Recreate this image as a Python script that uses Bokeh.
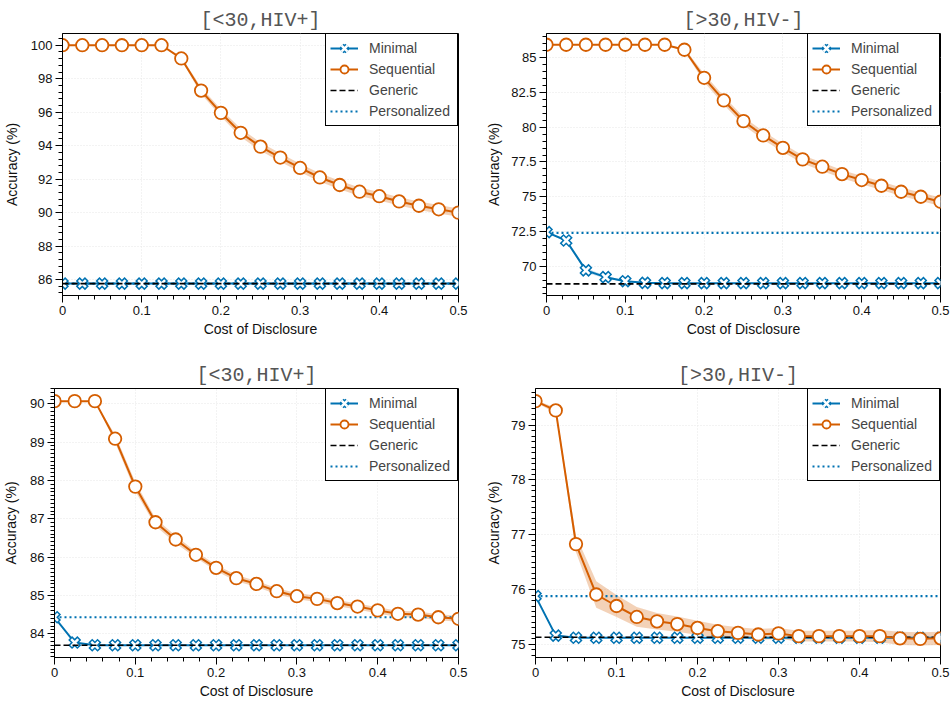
import numpy as np
from bokeh.plotting import figure
from bokeh.models import (FixedTicker, PrintfTickFormatter, Legend, LegendItem, Range1d)
from bokeh.layouts import column, row
from bokeh.embed import file_html
from bokeh.resources import INLINE

# ---------------- data ----------------
cost = [0.0, 0.025, 0.05, 0.075, 0.1, 0.125, 0.15, 0.175, 0.2, 0.225, 0.25,
        0.275, 0.3, 0.325, 0.35, 0.375, 0.4, 0.425, 0.45, 0.475, 0.5]
x_ticks = [0, 0.1, 0.2, 0.3, 0.4, 0.5]

titles = ["[<30,HIV+]", "[>30,HIV-]", "[<30,HIV+]", "[>30,HIV-]"]
series_names = ["Minimal", "Sequential", "Generic", "Personalized"]

# panel 1 (top left)
seq1 = [100.0, 100.0, 100.0, 100.0, 100.0, 100.0, 99.21, 97.29, 95.96, 94.77, 93.94,
        93.29, 92.67, 92.10, 91.65, 91.25, 90.98, 90.67, 90.41, 90.20, 90.00]
seq1_err = [0, 0, 0, 0, 0, 0, 0.1, 0.2, 0.22, 0.25, 0.25,
            0.25, 0.25, 0.25, 0.25, 0.25, 0.25, 0.25, 0.25, 0.25, 0.25]
min1 = [85.76, 85.76, 85.76, 85.76, 85.76, 85.76, 85.76, 85.76, 85.76, 85.76, 85.76,
        85.76, 85.76, 85.76, 85.76, 85.76, 85.76, 85.76, 85.76, 85.76, 85.76]
min1_err = [0] * 21
gen1 = 85.76
pers1 = 85.76
y1_ticks = [86, 88, 90, 92, 94, 96, 98, 100]

# panel 2 (top right)
seq2 = [85.94, 85.94, 85.94, 85.94, 85.94, 85.94, 85.94, 85.58, 83.56, 81.93, 80.44,
        79.41, 78.52, 77.69, 77.16, 76.63, 76.20, 75.79, 75.36, 75.00, 74.64]
seq2_err = [0, 0, 0, 0, 0, 0, 0, 0.1, 0.3, 0.3, 0.3,
            0.3, 0.3, 0.3, 0.3, 0.3, 0.3, 0.3, 0.3, 0.3, 0.3]
min2 = [72.45, 71.85, 69.70, 69.21, 68.92, 68.80, 68.78, 68.78, 68.78, 68.78, 68.78,
        68.78, 68.78, 68.78, 68.78, 68.78, 68.78, 68.78, 68.78, 68.78, 68.78]
min2_err = [0, 0.1, 0.15, 0.1, 0.05, 0, 0, 0, 0, 0, 0,
            0, 0, 0, 0, 0, 0, 0, 0, 0, 0]
gen2 = 68.73
pers2 = 72.40
y2_ticks = [70, 72.5, 75, 77.5, 80, 82.5, 85]

# panel 3 (bottom left)
seq3 = [90.07, 90.07, 90.07, 89.09, 87.84, 86.91, 86.46, 86.06, 85.72, 85.45, 85.30,
        85.11, 84.98, 84.91, 84.80, 84.71, 84.61, 84.52, 84.50, 84.43, 84.39]
seq3_err = [0, 0, 0, 0.1, 0.12, 0.1, 0.1, 0.08, 0.08, 0.08, 0.08,
            0.08, 0.08, 0.08, 0.08, 0.08, 0.08, 0.08, 0.08, 0.08, 0.08]
min3 = [84.43, 83.77, 83.70, 83.70, 83.70, 83.70, 83.70, 83.70, 83.70, 83.70, 83.70,
        83.70, 83.70, 83.70, 83.70, 83.70, 83.70, 83.70, 83.70, 83.70, 83.70]
min3_err = [0] * 21
gen3 = 83.70
pers3 = 84.43
y3_ticks = [84, 85, 86, 87, 88, 89, 90]

# panel 4 (bottom right)
seq4 = [79.44, 79.27, 76.83, 75.91, 75.70, 75.50, 75.42, 75.37, 75.30, 75.24, 75.21,
        75.18, 75.20, 75.15, 75.15, 75.15, 75.15, 75.15, 75.11, 75.10, 75.11]
seq4_err = [0.02, 0.05, 0.15, 0.24, 0.2, 0.18, 0.15, 0.14, 0.13, 0.12, 0.1,
            0.1, 0.1, 0.1, 0.1, 0.1, 0.1, 0.11, 0.12, 0.12, 0.12]
min4 = [75.88, 75.16, 75.12, 75.12, 75.12, 75.12, 75.12, 75.12, 75.12, 75.12, 75.12,
        75.12, 75.12, 75.12, 75.12, 75.12, 75.12, 75.12, 75.12, 75.12, 75.12]
min4_err = [0, 0.03, 0, 0, 0, 0, 0, 0, 0, 0, 0,
            0, 0, 0, 0, 0, 0, 0, 0, 0, 0]
gen4 = 75.13
pers4 = 75.88
y4_ticks = [75, 76, 77, 78, 79]

# ---------------- style ----------------
BLUE = "#0072B2"
ORANGE = "#D55E00"
SANS = "Liberation Sans"


def make_panel(title, seq, seq_err, mini, mini_err, generic, personalized,
               y_range, y_ticks, y_minor_step, w, h, bl, br, bt, bb, toff, ylab_off):
    p = figure(width=w, height=h, output_backend="svg", toolbar_location=None,
               x_range=Range1d(0, 0.5), y_range=Range1d(*y_range),
               min_border_left=bl, min_border_right=br,
               min_border_top=bt, min_border_bottom=bb,
               title=title)
    p.title.text_font = "Liberation Mono"
    p.title.text_font_size = "20px"
    p.title.text_font_style = "normal"
    p.title.text_color = "#555555"
    p.title.align = "center"
    p.title.offset = toff
    p.title.standoff = 4

    p.outline_line_color = "black"
    p.outline_line_width = 1
    p.outline_line_alpha = 1

    x = np.array(cost)
    s = np.array(seq)
    se = np.array(seq_err)
    m = np.array(mini)
    me = np.array(mini_err)

    # bands
    p.varea(x=x, y1=m - me, y2=m + me, fill_color=BLUE, fill_alpha=0.25)
    p.varea(x=x, y1=s - se, y2=s + se, fill_color=ORANGE, fill_alpha=0.28)

    # personalized
    r_pers = p.line([cost[0], cost[-1]], [personalized, personalized],
                    line_color=BLUE, line_width=2.2, line_dash="2 3")
    # minimal
    r_min_l = p.line(x, m, line_color=BLUE, line_width=2)
    r_min_b = p.scatter(x, m, marker="x", size=13, line_color=BLUE, line_width=5.5)
    r_min_w = p.scatter(x, m, marker="x", size=10, line_color="white", line_width=2.5)
    # generic
    r_gen = p.line([cost[0], cost[-1]], [generic, generic],
                   line_color="black", line_width=1.6, line_dash="6 3")
    # sequential
    r_seq_l = p.line(x, s, line_color=ORANGE, line_width=2)
    r_seq_c = p.scatter(x, s, marker="circle", size=12.5, fill_color="white",
                        line_color=ORANGE, line_width=1.8)

    legend = Legend(items=[
        LegendItem(label=series_names[0], renderers=[r_min_l, r_min_b, r_min_w]),
        LegendItem(label=series_names[1], renderers=[r_seq_l, r_seq_c]),
        LegendItem(label=series_names[2], renderers=[r_gen]),
        LegendItem(label=series_names[3], renderers=[r_pers]),
    ], location="top_right", margin=0, padding=4, spacing=1,
        glyph_height=20, glyph_width=28, label_height=20, label_width=84,
        label_standoff=11,
        label_text_font=SANS, label_text_font_size="14px",
        border_line_color="black", border_line_width=1, border_line_alpha=1,
        background_fill_color="white", background_fill_alpha=1)
    p.add_layout(legend)

    # ticks
    xt = FixedTicker(ticks=x_ticks, minor_ticks=list(np.round(np.arange(0, 0.5001, 0.02), 4)))
    lo_m = np.floor(y_range[0]) - 1
    hi_m = np.ceil(y_range[1]) + 1
    yt = FixedTicker(ticks=y_ticks,
                     minor_ticks=list(np.round(np.arange(lo_m, hi_m, y_minor_step), 4)))
    p.xaxis.ticker = xt
    p.xgrid.ticker = xt
    p.yaxis.ticker = yt
    p.ygrid.ticker = yt
    p.xaxis.formatter = PrintfTickFormatter(format="%g")
    p.yaxis.formatter = PrintfTickFormatter(format="%g")

    p.xaxis.axis_label = "Cost of Disclosure"
    p.yaxis.axis_label = "Accuracy (%)"
    for ax in (p.xaxis[0], p.yaxis[0]):
        ax.axis_line_color = "black"
        ax.axis_line_width = 1
        ax.major_tick_line_color = "black"
        ax.minor_tick_line_color = "black"
        ax.major_tick_out = 7
        ax.major_tick_in = 0
        ax.minor_tick_out = 4
        ax.minor_tick_in = 0
        ax.major_label_text_font = SANS
        ax.major_label_text_font_size = "13px"
        ax.major_label_text_color = "#111111"
        ax.major_label_standoff = 3
        ax.axis_label_text_font = SANS
        ax.axis_label_text_font_size = "14px"
        ax.axis_label_text_font_style = "normal"
        ax.axis_label_text_color = "#111111"
    p.xaxis.axis_label_standoff = 3
    p.yaxis.axis_label_standoff = ylab_off

    p.grid.grid_line_color = "#e6e6e6"
    p.grid.grid_line_dash = "1 2"
    p.grid.grid_line_width = 1
    return p


p1 = make_panel(titles[0], seq1, seq1_err, min1, min1_err, gen1, pers1,
                (85.05, 100.7), y1_ticks, 0.4, 475, 350, 61, 17, 30, 55, -22, 8)
p2 = make_panel(titles[1], seq2, seq2_err, min2, min2_err, gen2, pers2,
                (67.89, 86.75), y2_ticks, 0.5, 475, 350, 71, 10, 33, 55, -29, 6)
p3 = make_panel(titles[2], seq3, seq3_err, min3, min3_err, gen3, pers3,
                (83.38, 90.40), y3_ticks, 0.1, 475, 352, 53, 17, 38, 45, -13, 8)
p4 = make_panel(titles[3], seq4, seq4_err, min4, min4_err, gen4, pers4,
                (74.76, 79.67), y4_ticks, 0.1, 475, 352, 60, 10, 38, 45, -24, 6)

layout = column(row(p1, p2), row(p3, p4))
open("out.html", "w").write(file_html(layout, INLINE))
